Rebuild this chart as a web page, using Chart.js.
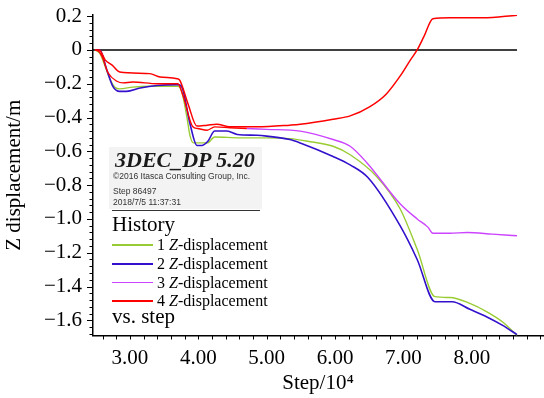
<!DOCTYPE html>
<html><head><meta charset="utf-8">
<script src="https://cdn.jsdelivr.net/npm/chart.js@4"></script>
<style>
html,body{margin:0;padding:0;background:#fff;overflow:hidden}
#wrap{position:relative;width:544px;height:398px}
canvas{position:absolute;left:0;top:0}
.t{position:absolute;white-space:nowrap;line-height:1;color:#000}
.serif{font-family:'Liberation Serif','Times New Roman',serif}
.sans{font-family:'Liberation Sans',Arial,sans-serif}
.sw{position:absolute;left:112px;width:41px}
</style></head><body>
<div id="wrap"><canvas id="c" width="544" height="398"></canvas>
<div style="position:absolute;left:109px;top:147px;width:153px;height:62px;background:#f3f3f3"></div>
<div class="t serif" style="left:115px;top:148.6px;font-size:22px;font-weight:bold;font-style:italic;color:#1a1a1a">3DEC_DP 5.20</div>
<div class="t sans" style="left:113px;top:171.8px;font-size:8.5px;color:#333">©2016 Itasca Consulting Group, Inc.</div>
<div class="t sans" style="left:113px;top:186.8px;font-size:8.5px;color:#333">Step 86497</div>
<div class="t sans" style="left:113px;top:197.8px;font-size:8.5px;color:#333">2018/7/5 11:37:31</div>
<div style="position:absolute;left:112px;top:210px;width:148px;height:1px;background:#333"></div>
<div class="t serif" style="left:112px;top:214px;font-size:21px">History</div>
<div class="sw" style="top:244px;height:1.6px;background:#99cc33"></div>
<div class="t serif" style="left:157px;top:237.1px;font-size:16px">1 <i>Z</i>-displacement</div>
<div class="sw" style="top:262.5px;height:2px;background:#3311cc"></div>
<div class="t serif" style="left:157px;top:256.1px;font-size:16px">2 <i>Z</i>-displacement</div>
<div class="sw" style="top:281.5px;height:1.6px;background:#cc44ff"></div>
<div class="t serif" style="left:157px;top:275.1px;font-size:16px">3 <i>Z</i>-displacement</div>
<div class="sw" style="top:299.5px;height:2px;background:#ff0000"></div>
<div class="t serif" style="left:157px;top:293.1px;font-size:16px">4 <i>Z</i>-displacement</div>
<div class="t serif" style="left:112px;top:306.4px;font-size:21px">vs. step</div>
</div>
<script>
// ---- data (step in 10^4, Z displacement in m) ----
const step1 = [2.49, 2.56, 2.64, 2.71, 2.78, 2.85, 3.04, 3.29, 3.70, 3.76, 3.83, 3.88, 3.93, 4.13, 4.24, 4.61, 5.00, 5.34, 5.60, 5.97, 6.22, 6.61, 6.95, 7.20, 7.46, 7.68, 7.97, 8.22, 8.45, 8.66];
const disp1 = [0, -0.02, -0.10, -0.175, -0.22, -0.23, -0.22, -0.215, -0.215, -0.25, -0.39, -0.51, -0.55, -0.55, -0.515, -0.52, -0.52, -0.525, -0.54, -0.57, -0.62, -0.75, -0.94, -1.18, -1.46, -1.465, -1.50, -1.55, -1.61, -1.69];

const step2 = [2.49, 2.56, 2.66, 2.75, 2.85, 2.95, 3.15, 3.40, 3.70, 3.76, 3.88, 3.98, 4.05, 4.14, 4.24, 4.42, 4.57, 4.86, 5.00, 5.34, 5.49, 5.97, 6.22, 6.48, 6.95, 7.20, 7.46, 7.71, 7.97, 8.22, 8.45, 8.66];
const disp2 = [0, 0, -0.115, -0.215, -0.245, -0.245, -0.225, -0.21, -0.205, -0.22, -0.44, -0.565, -0.565, -0.54, -0.48, -0.48, -0.50, -0.505, -0.51, -0.53, -0.55, -0.63, -0.68, -0.755, -1.04, -1.24, -1.49, -1.49, -1.535, -1.58, -1.63, -1.685];

const step3 = [2.49, 2.55, 2.60, 2.68, 2.81, 2.90, 3.04, 3.40, 3.70, 3.78, 3.92, 3.99, 4.13, 4.24, 4.46, 4.71, 5.00, 5.49, 5.97, 6.22, 6.47, 6.95, 7.20, 7.36, 7.43, 7.68, 7.93, 8.30, 8.66];
const disp3 = [0, -0.01, -0.045, -0.135, -0.185, -0.195, -0.19, -0.20, -0.20, -0.275, -0.455, -0.465, -0.475, -0.455, -0.46, -0.465, -0.47, -0.48, -0.53, -0.57, -0.67, -0.91, -1.00, -1.05, -1.085, -1.085, -1.08, -1.09, -1.10];

const step4 = [2.49, 2.55, 2.64, 2.74, 2.85, 3.29, 3.44, 3.69, 3.73, 3.85, 3.98, 4.13, 4.27, 4.46, 4.86, 5.34, 5.49, 5.97, 6.22, 6.51, 6.75, 6.95, 7.10, 7.20, 7.30, 7.43, 7.68, 8.16, 8.66];
const disp4 = [0, 0, -0.06, -0.09, -0.13, -0.14, -0.16, -0.17, -0.18, -0.32, -0.45, -0.445, -0.44, -0.455, -0.455, -0.445, -0.44, -0.41, -0.39, -0.335, -0.26, -0.155, -0.06, 0.0, 0.08, 0.185, 0.19, 0.19, 0.205];

const zeroStep = [2.46, 8.66];
const zeroDisp = [0, 0];

const xLabelValues = [3, 4, 5, 6, 7, 8];
const yLabelValues = [0.2, 0, -0.2, -0.4, -0.6, -0.8, -1.0, -1.2, -1.4, -1.6];
const xMinorStep = 0.2, yMinorStep = 0.04;
const xRange = [2.46, 9.04];
const yRange = [-1.69, 0.207];
const magentaFrom = 4.65;

const pts = (xs, ys) => xs.map((x, i) => ({x: x, y: ys[i]}));
const near = (v, arr) => arr.some(a => Math.abs(a - v) < 1e-6);
const fmtY = v => Math.abs(v) < 1e-9 ? '0' : (v < 0 ? '\u2212' : '') + Math.abs(v).toFixed(1);

const tickPlugin = {
  id: 'minorTicks',
  afterDraw(chart) {
    const ctx = chart.ctx, xs = chart.scales.x, ys = chart.scales.y, a = chart.chartArea;
    ctx.save();
    ctx.strokeStyle = '#000';
    ctx.lineWidth = 1;
    ys.ticks.forEach(t => {
      const y = Math.round(ys.getPixelForValue(t.value)) + 0.5;
      const len = near(t.value, yLabelValues) ? 6 : 3.5;
      ctx.beginPath(); ctx.moveTo(a.left - len, y); ctx.lineTo(a.left, y); ctx.stroke();
    });
    xs.ticks.forEach(t => {
      const x = Math.round(xs.getPixelForValue(t.value)) + 0.5;
      ctx.beginPath(); ctx.moveTo(x, a.bottom); ctx.lineTo(x, a.bottom + 4); ctx.stroke();
    });
    ctx.restore();
  }
};

const serif = "'Liberation Serif','Times New Roman',serif";
const common = {fill: false, pointRadius: 0, cubicInterpolationMode: 'monotone'};

new Chart(document.getElementById('c'), {
  type: 'line',
  data: {
    datasets: [
      Object.assign({label: 'zero', data: pts(zeroStep, zeroDisp), borderColor: '#000', borderWidth: 1.5, order: 5}, common),
      Object.assign({label: '1 Z-displacement', data: pts(step1, disp1), borderColor: '#99cc33', borderWidth: 1.4, order: 3}, common),
      Object.assign({label: '2 Z-displacement', data: pts(step2, disp2), borderColor: '#3311cc', borderWidth: 1.6, order: 2}, common),
      Object.assign({label: '3 Z-displacement', data: pts(step3, disp3), borderColor: '#cc44ff', borderWidth: 1.4, order: 1,
        segment: {borderColor: c => c.p0.parsed.x < magentaFrom ? '#ff0000' : '#cc44ff'}}, common),
      Object.assign({label: '4 Z-displacement', data: pts(step4, disp4), borderColor: '#ff0000', borderWidth: 1.5, order: 0}, common)
    ]
  },
  options: {
    responsive: false,
    animation: false,
    events: [],
    layout: {padding: {left: 0, top: 15, right: 1, bottom: 0}},
    plugins: {legend: {display: false}, tooltip: {enabled: false}},
    scales: {
      x: {
        type: 'linear', min: xRange[0], max: xRange[1],
        afterBuildTicks: s => {
          const arr = [];
          for (let i = 13; i <= 45; i++) arr.push({value: Math.round(i * xMinorStep * 100) / 100});
          s.ticks = arr;
        },
        afterFit: s => { s.height = 62.5; s.paddingLeft = 0; s.paddingRight = 0; },
        ticks: {autoSkip: false, maxRotation: 0, padding: 10, color: '#000',
          font: {family: serif, size: 21},
          callback: v => near(v, xLabelValues) ? v.toFixed(2) : ''},
        grid: {display: true, drawOnChartArea: false, drawTicks: false},
        border: {display: true, color: '#000', width: 1.5},
        title: {display: true, text: 'Step/10\u2074', color: '#000', font: {family: serif, size: 21}, padding: {top: 0, bottom: 2}}
      },
      y: {
        type: 'linear', min: yRange[0], max: yRange[1],
        afterBuildTicks: s => {
          const arr = [];
          for (let i = -42; i <= 5; i++) arr.push({value: Math.round(i * yMinorStep * 100) / 100});
          s.ticks = arr;
        },
        afterFit: s => { s.width = 93; s.paddingTop = 0; s.paddingBottom = 0; },
        ticks: {autoSkip: false, padding: 11, color: '#000',
          font: {family: serif, size: 21},
          callback: v => near(v, yLabelValues) ? fmtY(v) : ''},
        grid: {display: true, drawOnChartArea: false, drawTicks: false},
        border: {display: true, color: '#000', width: 1.5},
        title: {display: true, text: 'Z displacement/m', color: '#000', font: {family: serif, size: 21}, padding: {top: 2, bottom: 0}}
      }
    }
  },
  plugins: [tickPlugin]
});
</script>
</body></html>
